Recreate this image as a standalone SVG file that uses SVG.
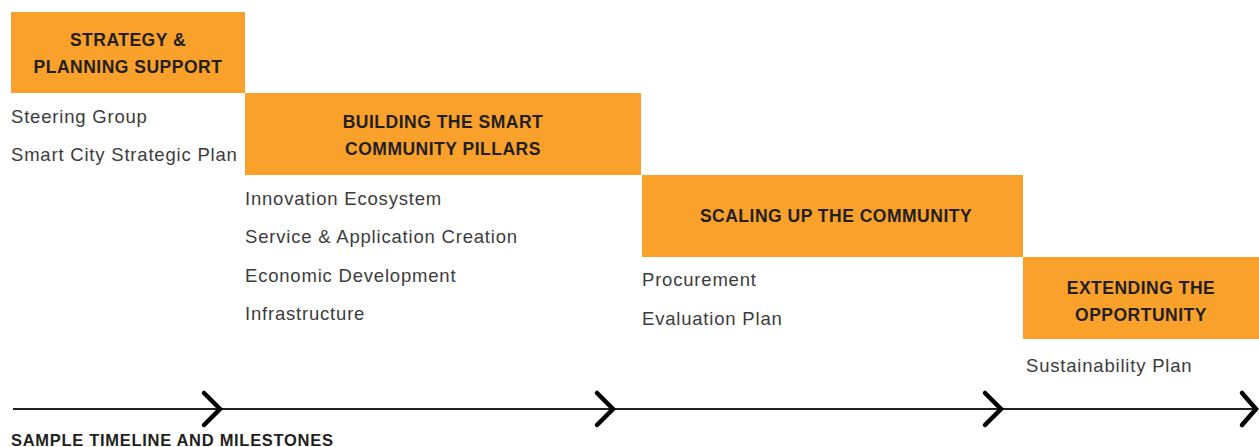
<svg xmlns="http://www.w3.org/2000/svg" width="1259" height="447" viewBox="0 0 1259 447">
<style>
.box{fill:#F9A12A}
.ttl{font-family:"Liberation Sans",Arial,sans-serif;font-weight:bold;font-size:17.5px;letter-spacing:0.5px;fill:#231F20;text-anchor:middle}
.item{font-family:"Liberation Sans",Arial,sans-serif;font-size:18.5px;letter-spacing:0.8px;fill:#3C3C3C}
.axis{stroke:#231F20;stroke-width:2;fill:none}
.chev{stroke:#000;stroke-width:4.5;fill:none;stroke-linecap:round;stroke-linejoin:miter}
.lbl{font-family:"Liberation Sans",Arial,sans-serif;font-weight:bold;font-size:16.5px;letter-spacing:0.7px;fill:#231F20}
</style>
<rect width="1259" height="447" fill="#FFFFFF"/>
<g id="phase1">
<rect class="box" x="11" y="12" width="234" height="81"/>
<text class="ttl" x="128" y="46">STRATEGY &amp;</text>
<text class="ttl" x="128" y="73">PLANNING SUPPORT</text>
<text class="item" x="11" y="123">Steering Group</text>
<text class="item" x="11" y="161">Smart City Strategic Plan</text>
</g>
<g id="phase2">
<rect class="box" x="245" y="93" width="396" height="82"/>
<text class="ttl" x="443" y="128">BUILDING THE SMART</text>
<text class="ttl" x="443" y="155">COMMUNITY PILLARS</text>
<text class="item" x="245" y="205">Innovation Ecosystem</text>
<text class="item" x="245" y="243">Service &amp; Application Creation</text>
<text class="item" x="245" y="282">Economic Development</text>
<text class="item" x="245" y="320">Infrastructure</text>
</g>
<g id="phase3">
<rect class="box" x="642" y="175" width="381" height="82"/>
<text class="ttl" x="836" y="222">SCALING UP THE COMMUNITY</text>
<text class="item" x="642" y="286">Procurement</text>
<text class="item" x="642" y="325">Evaluation Plan</text>
</g>
<g id="phase4">
<rect class="box" x="1023" y="257" width="236" height="82"/>
<text class="ttl" x="1141" y="294">EXTENDING THE</text>
<text class="ttl" x="1141" y="321">OPPORTUNITY</text>
<text class="item" x="1026" y="372">Sustainability Plan</text>
</g>
<g id="connectors">
<line class="axis" x1="13" y1="409" x2="1256" y2="409"/>
<polyline class="chev" points="204,393 220,409 204,425"/>
<polyline class="chev" points="597,393 613,409 597,425"/>
<polyline class="chev" points="985,393 1001,409 985,425"/>
<polyline class="chev" points="1242,393 1256,409 1242,425"/>
</g>
<g id="caption">
<text class="lbl" x="11" y="446">SAMPLE TIMELINE AND MILESTONES</text>
</g>
</svg>
